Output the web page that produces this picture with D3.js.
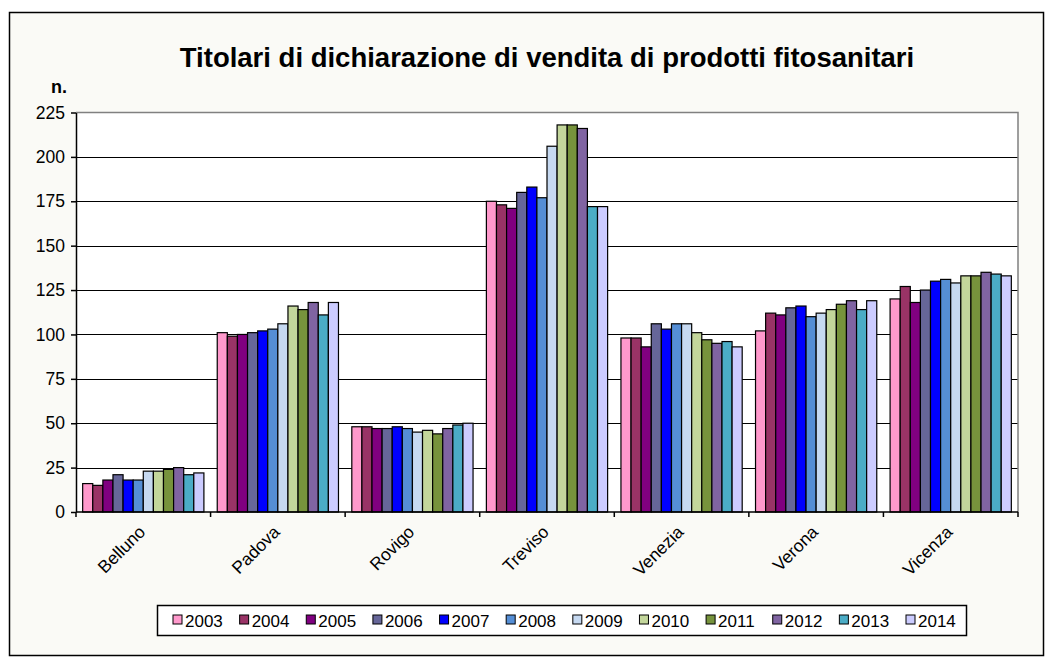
<!DOCTYPE html>
<html><head><meta charset="utf-8">
<script src="https://cdn.jsdelivr.net/npm/d3@7"></script>
<style>body{margin:0;background:#fff;}svg{display:block;}text{font-family:Arial,"Liberation Sans",sans-serif;}</style>
</head><body><svg id="c" width="1054" height="666"></svg>
<script>
const categories = ["Belluno","Padova","Rovigo","Treviso","Venezia","Verona","Vicenza"];
const years = ["2003","2004","2005","2006","2007","2008","2009","2010","2011","2012","2013","2014"];
const v2003 = [16,101,48,175,98,102,120];
const v2004 = [15,99,48,173,98,112,127];
const v2005 = [18,100,47,171,93,111,118];
const v2006 = [21,101,47,180,106,115,125];
const v2007 = [18,102,48,183,103,116,130];
const v2008 = [18,103,47,177,106,110,131];
const v2009 = [23,106,45,206,106,112,129];
const v2010 = [23,116,46,218,101,114,133];
const v2011 = [24,114,44,218,97,117,133];
const v2012 = [25,118,47,216,95,119,135];
const v2013 = [21,111,49,172,96,114,134];
const v2014 = [22,118,50,172,93,119,133];
const yTicks = [0,25,50,75,100,125,150,175,200,225];
const colors = ["#ff99cc","#993366","#800080","#666699","#0000ff","#558ed5","#c6d9f1","#c3d69b","#77933c","#8064a2","#4bacc6","#ccccff"];
const series = [v2003,v2004,v2005,v2006,v2007,v2008,v2009,v2010,v2011,v2012,v2013,v2014];

const svg = d3.select("#c");
svg.append("rect").attr("x",0).attr("y",0).attr("width",1054).attr("height",666).attr("fill","#ffffff");
svg.append("rect").attr("x",9.5).attr("y",12.5).attr("width",1034).attr("height",643).attr("fill","#fafaf6").attr("stroke","#000").attr("stroke-width",1.5);

const L=76, R=1018, T=112.5, B=512;
const x0 = d3.scaleBand().domain(categories).range([L,R]).paddingInner(0).paddingOuter(0);
const x1 = d3.scaleBand().domain(years).range([0,x0.bandwidth()]).paddingOuter(0.66).paddingInner(0);
const y = d3.scaleLinear().domain([0,225]).range([B,T]);

svg.append("rect").attr("x",L).attr("y",T).attr("width",R-L).attr("height",B-T).attr("fill","#fff");

// gridlines
svg.append("g").selectAll("line").data(yTicks.filter(d=>d>0 && d<225)).join("line")
  .attr("x1",L).attr("x2",R).attr("y1",d=>Math.round(y(d))+0.5).attr("y2",d=>Math.round(y(d))+0.5)
  .attr("stroke","#000").attr("stroke-width",1);
// top/right border grey
svg.append("path").attr("d",`M${L},${T}H${R}V${B}`).attr("fill","none").attr("stroke","#808080").attr("stroke-width",1.5);

// bars
const g = svg.append("g");
categories.forEach((c,ci)=>{
  years.forEach((yr,si)=>{
    const v = series[si][ci];
    g.append("rect").attr("x",x0(c)+x1(yr)).attr("y",y(v)).attr("width",x1.bandwidth()).attr("height",B-y(v))
      .attr("fill",colors[si]).attr("stroke","#000").attr("stroke-width",1.2);
  });
});

// y axis
const yAxis = d3.axisLeft(y).tickValues(yTicks).tickSize(5).tickSizeOuter(0).tickPadding(6);
const ya = svg.append("g").attr("transform",`translate(${L},0)`).call(yAxis);
ya.select(".domain").attr("stroke","#000").attr("stroke-width",1.5);
ya.selectAll(".tick line").attr("stroke","#000").attr("stroke-width",1.5);
ya.selectAll(".tick text").attr("font-size",17.5).attr("font-family","Arial, 'Liberation Sans', sans-serif").attr("fill","#000");

// x axis
const xa = svg.append("g").attr("transform",`translate(0,${B})`);
xa.append("line").attr("x1",L).attr("x2",R).attr("y1",0).attr("y2",0).attr("stroke","#000").attr("stroke-width",1.5);
const bounds = categories.map(c=>x0(c)).concat([R]);
xa.selectAll(".tk").data(bounds).join("line").attr("class","tk")
  .attr("x1",d=>d).attr("x2",d=>d).attr("y1",0).attr("y2",5).attr("stroke","#000").attr("stroke-width",1.5);
xa.selectAll(".lbl").data(categories).join("text").attr("class","lbl")
  .attr("transform",d=>`translate(${x0(d)+x0.bandwidth()/2+3},${21}) rotate(-45)`)
  .attr("text-anchor","end").attr("font-size",17.5).attr("fill","#000").text(d=>d);

// title
svg.append("text").attr("x",(L+R)/2).attr("y",67).attr("text-anchor","middle")
  .attr("font-size",27.5).attr("font-weight","bold").attr("fill","#000")
  .text("Titolari di dichiarazione di vendita di prodotti fitosanitari");
svg.append("text").attr("x",51).attr("y",93).attr("font-size",18).attr("font-weight","bold").attr("fill","#000").text("n.");

// legend
const lg = svg.append("g");
lg.append("rect").attr("x",157.5).attr("y",605.5).attr("width",809).attr("height",30).attr("fill","#fff").attr("stroke","#000").attr("stroke-width",1.5);
const lx = d3.scalePoint().domain(years).range([173,906]);
years.forEach((yr,i)=>{
  const xx = lx(yr);
  lg.append("rect").attr("x",xx).attr("y",615).attr("width",9).attr("height",9).attr("fill",colors[i]).attr("stroke","#000").attr("stroke-width",1);
  lg.append("text").attr("x",xx+12).attr("y",627).attr("font-size",17).attr("fill","#000").text(yr);
});
</script></body></html>
